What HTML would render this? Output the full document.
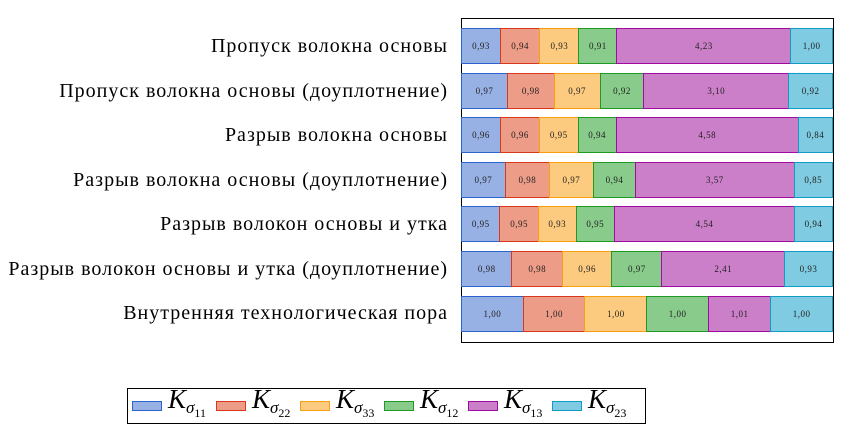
<!DOCTYPE html>
<html><head><meta charset="utf-8"><style>
body{margin:0;width:852px;height:448px;background:#fff;font-family:"Liberation Serif","DejaVu Serif",serif;position:relative;overflow:hidden}
.frame{position:absolute;left:461px;top:18px;width:371px;height:323px;border:1px solid #000;box-sizing:content-box}
.row{position:absolute;left:461px;width:372px;height:36px;display:flex}
.row div{box-sizing:border-box;border:1px solid;display:flex;align-items:center;justify-content:center;font-size:9px;letter-spacing:0.5px;color:#222;margin-left:-1px}
.row div:first-child{margin-left:0}
.a{background:#98b1e4;border-color:#2b63cf!important}
.b{background:#ed9c87;border-color:#d9381a!important}
.c{background:#fdcb7f;border-color:#f99f12!important}
.d{background:#88cb8a;border-color:#1f9a25!important}
.e{background:#cb7fc8;border-color:#a10ba2!important}
.f{background:#7fcbe2;border-color:#139bc6!important}
.lab{position:absolute;right:404px;font-size:20px;letter-spacing:1px;white-space:nowrap;line-height:20px}
.leg{position:absolute;left:127px;top:388px;width:519px;height:36px;border:1px solid #000;box-sizing:border-box;display:flex;align-items:center;padding-left:4px}
.sw{width:30px;height:10px;border:1px solid;box-sizing:border-box;margin-right:6px}
.k{font-style:italic;font-size:27px;line-height:30px;display:inline-block;width:48px}
.k sub{font-size:17px;vertical-align:-5px}
.k sub sub{font-size:12px;font-style:normal;vertical-align:-4px}
</style></head><body>
<div class="frame"></div>
<div class="lab" style="top:36px">Пропуск волокна основы</div>
<div class="lab" style="top:81px">Пропуск волокна основы (доуплотнение)</div>
<div class="lab" style="top:125px">Разрыв волокна основы</div>
<div class="lab" style="top:170px">Разрыв волокна основы (доуплотнение)</div>
<div class="lab" style="top:214px">Разрыв волокон основы и утка</div>
<div class="lab" style="top:259px">Разрыв волокон основы и утка (доуплотнение)</div>
<div class="lab" style="top:303px">Внутренняя технологическая пора</div>
<div class="row" style="top:28px"><div class="a" style="flex:0.93">0,93</div><div class="b" style="flex:0.94">0,94</div><div class="c" style="flex:0.93">0,93</div><div class="d" style="flex:0.91">0,91</div><div class="e" style="flex:4.23">4,23</div><div class="f" style="flex:1.00">1,00</div></div>
<div class="row" style="top:73px"><div class="a" style="flex:0.97">0,97</div><div class="b" style="flex:0.98">0,98</div><div class="c" style="flex:0.97">0,97</div><div class="d" style="flex:0.92">0,92</div><div class="e" style="flex:3.10">3,10</div><div class="f" style="flex:0.92">0,92</div></div>
<div class="row" style="top:117px"><div class="a" style="flex:0.96">0,96</div><div class="b" style="flex:0.96">0,96</div><div class="c" style="flex:0.95">0,95</div><div class="d" style="flex:0.94">0,94</div><div class="e" style="flex:4.58">4,58</div><div class="f" style="flex:0.84">0,84</div></div>
<div class="row" style="top:162px"><div class="a" style="flex:0.97">0,97</div><div class="b" style="flex:0.98">0,98</div><div class="c" style="flex:0.97">0,97</div><div class="d" style="flex:0.94">0,94</div><div class="e" style="flex:3.57">3,57</div><div class="f" style="flex:0.85">0,85</div></div>
<div class="row" style="top:206px"><div class="a" style="flex:0.95">0,95</div><div class="b" style="flex:0.95">0,95</div><div class="c" style="flex:0.93">0,93</div><div class="d" style="flex:0.95">0,95</div><div class="e" style="flex:4.54">4,54</div><div class="f" style="flex:0.94">0,94</div></div>
<div class="row" style="top:251px"><div class="a" style="flex:0.98">0,98</div><div class="b" style="flex:0.98">0,98</div><div class="c" style="flex:0.96">0,96</div><div class="d" style="flex:0.97">0,97</div><div class="e" style="flex:2.41">2,41</div><div class="f" style="flex:0.93">0,93</div></div>
<div class="row" style="top:296px"><div class="a" style="flex:1.00">1,00</div><div class="b" style="flex:1.00">1,00</div><div class="c" style="flex:1.00">1,00</div><div class="d" style="flex:1.00">1,00</div><div class="e" style="flex:1.01">1,01</div><div class="f" style="flex:1.00">1,00</div></div>
<div class="leg">
<div class="sw a"></div><span class="k">K<sub>σ<sub>11</sub></sub></span>
<div class="sw b"></div><span class="k">K<sub>σ<sub>22</sub></sub></span>
<div class="sw c"></div><span class="k">K<sub>σ<sub>33</sub></sub></span>
<div class="sw d"></div><span class="k">K<sub>σ<sub>12</sub></sub></span>
<div class="sw e"></div><span class="k">K<sub>σ<sub>13</sub></sub></span>
<div class="sw f"></div><span class="k">K<sub>σ<sub>23</sub></sub></span>
</div>
</body></html>
